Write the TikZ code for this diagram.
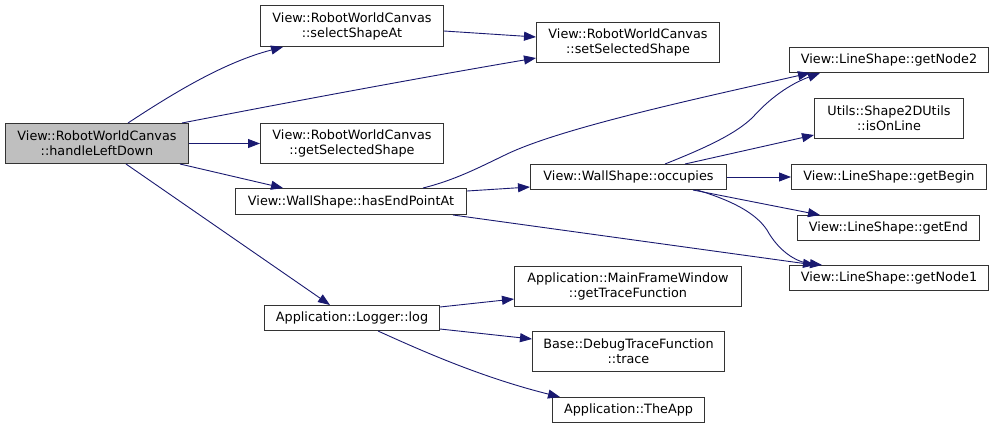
\documentclass[tikz,border=0pt]{standalone}
\usepackage{fontspec}
\setmainfont{DejaVu Sans}
\usetikzlibrary{arrows.meta,calc}
\definecolor{edgeblue}{HTML}{191970}
\definecolor{boxgray}{HTML}{BFBFBF}
\begin{document}
\begin{tikzpicture}[x=1pt,y=-1pt,
  fnbox/.style={draw=black!80,line width=1pt,inner sep=0pt,align=center,anchor=north west,
    font=\fontsize{12.8}{15}\selectfont},
  call/.style={draw=edgeblue,line width=0.9pt,-{Triangle[length=12pt,width=9pt]},fill=none}]
\useasboundingbox (0,0) rectangle (993,429);
\node[fnbox,fill=boxgray,minimum width=183pt,minimum height=40pt] (hld) at (5,123) {View::RobotWorldCanvas\\::handleLeftDown};
\node[fnbox,minimum width=183pt,minimum height=41pt] (sel) at (260,5) {View::RobotWorldCanvas\\::selectShapeAt};
\node[fnbox,minimum width=183pt,minimum height=40pt] (gss) at (260,123) {View::RobotWorldCanvas\\::getSelectedShape};
\node[fnbox,minimum width=231pt,minimum height=26pt] (hep) at (235,188) {View::WallShape::hasEndPointAt};
\node[fnbox,minimum width=183pt,minimum height=40pt] (sss) at (536,22) {View::RobotWorldCanvas\\::setSelectedShape};
\node[fnbox,minimum width=199pt,minimum height=25pt] (gn2) at (789,47) {View::LineShape::getNode2};
\node[fnbox,minimum width=149pt,minimum height=40pt] (iol) at (814,98) {Utils::Shape2DUtils\\::isOnLine};
\node[fnbox,minimum width=196pt,minimum height=25pt] (occ) at (530,164) {View::WallShape::occupies};
\node[fnbox,minimum width=195pt,minimum height=25pt] (gb) at (791,164) {View::LineShape::getBegin};
\node[fnbox,minimum width=182pt,minimum height=25pt] (ge) at (797,215) {View::LineShape::getEnd};
\node[fnbox,minimum width=199pt,minimum height=25pt] (gn1) at (789,265) {View::LineShape::getNode1};
\node[fnbox,minimum width=175pt,minimum height=25pt] (log) at (264,305) {Application::Logger::log};
\node[fnbox,minimum width=227pt,minimum height=40pt] (gtf) at (514,266) {Application::MainFrameWindow\\::getTraceFunction};
\node[fnbox,minimum width=192pt,minimum height=40pt] (tr) at (532,331) {Base::DebugTraceFunction\\::trace};
\node[fnbox,minimum width=152pt,minimum height=25pt] (app) at (552,397) {Application::TheApp};
% edges
\draw[call] ($(hld.north west)+(123,0)$) .. controls (175,92) and (225,62) .. ($(sel.south west)+(23,0)$);
\draw[call] ($(hld.north west)+(177,0)$) .. controls (300,100) and (430,76) .. ($(sss.south west)+(0,-5)$);
\draw[call] (hld.east) -- (gss.west);
\draw[call] ($(hld.south west)+(175,0)$) -- ($(hep.north west)+(48,0)$);
\draw[call] ($(hld.south west)+(121,0)$) -- ($(log.north west)+(66,0)$);
\draw[call] ($(sel.north east)+(0,26)$) -- ($(sss.north west)+(0,15)$);
\draw[call] ($(hep.north west)+(188,0)$) .. controls (455,180) and (478,168) .. (505,155) .. controls (560,128) and (700,98) .. ($(gn2.south west)+(21,0)$);
\draw[call] ($(hep.north east)+(0,3)$) -- ($(occ.south west)+(0,-3)$);
\draw[call] ($(hep.south west)+(218,0)$) -- ($(gn1.north west)+(26,0)$);
\draw[call] ($(occ.north west)+(135,0)$) .. controls (700,150) and (735,135) .. (753,117) .. controls (770,98) and (790,84) .. ($(gn2.south west)+(31,0)$);
\draw[call] ($(occ.north west)+(155,0)$) -- ($(iol.south west)+(0,-4)$);
\draw[call] (occ.east) -- (gb.west);
\draw[call] ($(occ.south west)+(163,0)$) -- ($(ge.north west)+(23,0)$);
\draw[call] ($(occ.south west)+(167,0)$) .. controls (730,200) and (755,212) .. (767,230) .. controls (778,250) and (795,262) .. ($(gn1.north west)+(33,0)$);
\draw[call] ($(log.north east)+(0,2)$) -- ($(gtf.south west)+(0,-8)$);
\draw[call] ($(log.south east)+(0,-2)$) -- ($(tr.north west)+(0,8)$);
\draw[call] ($(log.south west)+(114,0)$) .. controls (420,350) and (480,377) .. ($(app.north west)+(8,0)$);
\end{tikzpicture}
\end{document}
